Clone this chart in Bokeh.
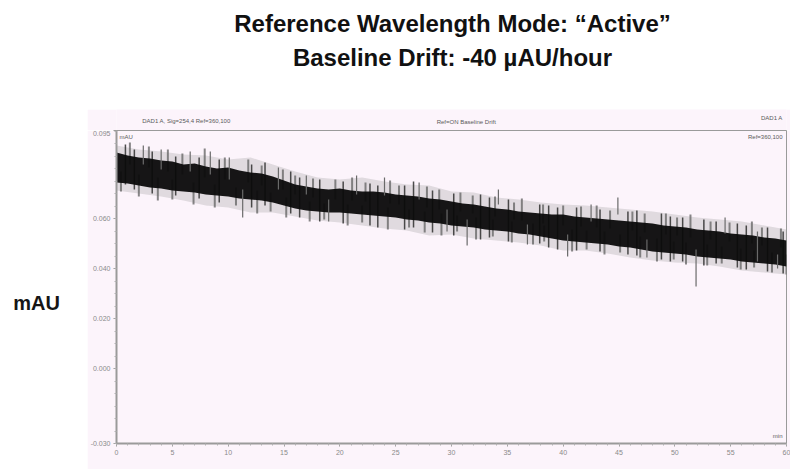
from bokeh.plotting import figure
from bokeh.layouts import column, row
from bokeh.models import Range1d, FixedTicker, Label
from bokeh.embed import file_html
from bokeh.resources import INLINE

# ---------------- data ----------------
time_min = list(range(61))  # minutes
band_top = [0.0864, 0.0852, 0.0844, 0.0840, 0.0832, 0.0828, 0.0816, 0.0820, 0.0808, 0.0800,
            0.0804, 0.0792, 0.0784, 0.0780, 0.0768, 0.0752, 0.0736, 0.0728, 0.0720, 0.0716,
            0.0720, 0.0712, 0.0708, 0.0708, 0.0704, 0.0696, 0.0692, 0.0688, 0.0680, 0.0676,
            0.0668, 0.0660, 0.0656, 0.0648, 0.0640, 0.0636, 0.0628, 0.0624, 0.0620, 0.0616,
            0.0616, 0.0608, 0.0604, 0.0600, 0.0596, 0.0592, 0.0588, 0.0584, 0.0580, 0.0572,
            0.0568, 0.0564, 0.0556, 0.0552, 0.0548, 0.0540, 0.0536, 0.0532, 0.0524, 0.0520,
            0.0512]
band_bottom = [0.0744, 0.0740, 0.0732, 0.0724, 0.0720, 0.0712, 0.0708, 0.0704, 0.0696, 0.0692,
               0.0688, 0.0680, 0.0676, 0.0672, 0.0664, 0.0652, 0.0640, 0.0632, 0.0628, 0.0624,
               0.0624, 0.0620, 0.0616, 0.0612, 0.0608, 0.0604, 0.0596, 0.0592, 0.0584, 0.0580,
               0.0572, 0.0568, 0.0564, 0.0556, 0.0552, 0.0548, 0.0540, 0.0536, 0.0528, 0.0520,
               0.0512, 0.0508, 0.0504, 0.0500, 0.0496, 0.0488, 0.0484, 0.0476, 0.0468, 0.0464,
               0.0460, 0.0456, 0.0448, 0.0444, 0.0440, 0.0436, 0.0428, 0.0424, 0.0420, 0.0416,
               0.0408]

halo_time = list(range(0, 61, 2))
halo_top = [0.0892, 0.0876, 0.0868, 0.0856, 0.0852, 0.0836, 0.0844, 0.0816, 0.0788, 0.0764,
            0.0756, 0.0764, 0.0748, 0.0736, 0.0732, 0.0708, 0.0704, 0.0684, 0.0676, 0.0664,
            0.0656, 0.0652, 0.0644, 0.0636, 0.0628, 0.0616, 0.0604, 0.0596, 0.0588, 0.0572,
            0.0556]
halo_bottom = [0.0712, 0.0700, 0.0688, 0.0672, 0.0652, 0.0644, 0.0624, 0.0624, 0.0608, 0.0592,
               0.0584, 0.0572, 0.0560, 0.0552, 0.0532, 0.0536, 0.0520, 0.0512, 0.0504, 0.0492,
               0.0472, 0.0472, 0.0460, 0.0444, 0.0432, 0.0424, 0.0420, 0.0408, 0.0392, 0.0384,
               0.0376]

# isolated noise spikes
spike_time = [2.4, 4.0, 6.6, 8.4, 10.1, 11.3, 14.5, 17.0, 19.0, 21.5, 24.0, 27.1,
              29.6, 31.4, 34.2, 36.8, 40.4, 42.5, 44.9, 47.5, 51.9, 54.5, 57.4, 59.2]
spike_top = [0.0892, 0.0876, 0.0868, 0.0868, 0.0844, 0.0716, 0.0804, 0.0772, 0.0676, 0.0772,
             0.0764, 0.0744, 0.0636, 0.0596, 0.0716, 0.0576, 0.0536, 0.0656, 0.0684, 0.0516,
             0.0476, 0.0604, 0.0548, 0.0456]
spike_bottom = [0.0816, 0.0796, 0.0788, 0.0776, 0.0756, 0.0604, 0.0716, 0.0696, 0.0588, 0.0696,
                0.0692, 0.0676, 0.0548, 0.0492, 0.0656, 0.0496, 0.0448, 0.0588, 0.0616, 0.0444,
                0.0328, 0.0540, 0.0428, 0.0400]

# dense noise strokes through the trace
stroke_time = [0.8, 1.6, 3.2, 5.3, 7.4, 9.2, 12.1, 13.3, 15.6, 16.4, 18.2, 20.3, 22.7,
               23.4, 25.8, 26.6, 28.3, 30.2, 32.6, 33.4, 35.1, 37.9, 38.7, 39.5, 41.2,
               43.3, 45.8, 46.6, 48.8, 49.6, 50.7, 52.6, 53.7, 55.6, 56.4, 58.3, 59.7]
stroke_top = [0.0896, 0.0876, 0.0868, 0.0848, 0.0844, 0.0836, 0.0816, 0.0824, 0.0788, 0.0764,
              0.0756, 0.0748, 0.0740, 0.0732, 0.0732, 0.0748, 0.0712, 0.0700, 0.0696, 0.0684,
              0.0676, 0.0656, 0.0652, 0.0644, 0.0644, 0.0636, 0.0628, 0.0632, 0.0620, 0.0608,
              0.0604, 0.0596, 0.0588, 0.0580, 0.0572, 0.0564, 0.0548]
stroke_bottom = [0.0736, 0.0716, 0.0700, 0.0692, 0.0680, 0.0664, 0.0644, 0.0652, 0.0620, 0.0604,
                 0.0588, 0.0580, 0.0572, 0.0564, 0.0556, 0.0564, 0.0544, 0.0532, 0.0516, 0.0524,
                 0.0508, 0.0500, 0.0484, 0.0476, 0.0472, 0.0468, 0.0456, 0.0452, 0.0436, 0.0428,
                 0.0428, 0.0412, 0.0420, 0.0404, 0.0396, 0.0388, 0.0380]

# grey fringe strokes above the trace
upper_time = [1.2, 2.9, 4.6, 5.9, 7.9, 9.7, 11.8, 13.0, 14.9, 16.0, 17.6, 19.6, 21.1,
              22.3, 24.5, 25.3, 27.8, 28.9, 30.8, 31.9, 33.9, 35.6, 36.3, 38.2, 40.0,
              41.6, 43.0, 44.2, 46.2, 47.3, 49.2, 50.2, 51.4, 53.2, 54.9, 56.9, 57.8, 59.5]
upper_tip = [0.0904, 0.0888, 0.0876, 0.0860, 0.0880, 0.0844, 0.0836, 0.0812, 0.0796, 0.0772,
             0.0760, 0.0756, 0.0764, 0.0744, 0.0752, 0.0732, 0.0728, 0.0716, 0.0704, 0.0692,
             0.0688, 0.0664, 0.0680, 0.0656, 0.0652, 0.0648, 0.0652, 0.0632, 0.0628, 0.0620,
             0.0620, 0.0604, 0.0616, 0.0588, 0.0584, 0.0588, 0.0564, 0.0560]
upper_base = [0.0816, 0.0804, 0.0788, 0.0776, 0.0764, 0.0756, 0.0744, 0.0732, 0.0716, 0.0696,
              0.0684, 0.0676, 0.0672, 0.0668, 0.0660, 0.0656, 0.0644, 0.0636, 0.0628, 0.0620,
              0.0608, 0.0596, 0.0592, 0.0580, 0.0572, 0.0568, 0.0564, 0.0560, 0.0552, 0.0544,
              0.0536, 0.0532, 0.0524, 0.0516, 0.0508, 0.0500, 0.0492, 0.0484]

# grey fringe strokes below the trace
lower_time = [0.4, 2.0, 3.7, 5.0, 6.9, 8.8, 10.7, 12.6, 13.8, 15.2, 17.3, 18.6, 20.7,
              22.0, 24.3, 26.2, 27.6, 29.1, 30.5, 32.2, 33.7, 35.4, 37.3, 38.3, 40.8,
              42.1, 43.7, 45.1, 46.9, 48.4, 49.9, 51.0, 52.9, 54.2, 55.9, 57.1, 58.7, 60.0]
lower_base = [0.0788, 0.0776, 0.0764, 0.0756, 0.0744, 0.0736, 0.0724, 0.0712, 0.0704, 0.0684,
              0.0668, 0.0660, 0.0656, 0.0652, 0.0644, 0.0636, 0.0628, 0.0620, 0.0612, 0.0604,
              0.0596, 0.0588, 0.0580, 0.0572, 0.0556, 0.0552, 0.0548, 0.0536, 0.0528, 0.0520,
              0.0508, 0.0504, 0.0496, 0.0488, 0.0480, 0.0472, 0.0464, 0.0456]
lower_tip = [0.0708, 0.0688, 0.0672, 0.0676, 0.0656, 0.0644, 0.0652, 0.0620, 0.0628, 0.0604,
             0.0588, 0.0596, 0.0572, 0.0584, 0.0556, 0.0564, 0.0544, 0.0532, 0.0548, 0.0516,
             0.0528, 0.0504, 0.0496, 0.0508, 0.0468, 0.0476, 0.0456, 0.0464, 0.0444, 0.0428,
             0.0436, 0.0416, 0.0412, 0.0420, 0.0396, 0.0404, 0.0384, 0.0376]

x_ticks = [0, 5, 10, 15, 20, 25, 30, 35, 40, 45, 50, 55, 60]
x_tick_labels = ["0", "5", "10", "15", "20", "25", "30", "35", "40", "45", "50", "55", "60"]
y_ticks = [-0.03, 0.0, 0.02, 0.04, 0.06, 0.0952]
y_tick_labels = ["-0.030", "0.000", "0.020", "0.040", "0.060", "0.095"]

title_line1 = "Reference Wavelength Mode: \u201cActive\u201d"
title_line2 = "Baseline Drift: -40 \u00b5AU/hour"
y_label = "mAU"
header_left = "DAD1 A, Sig=254,4 Ref=360,100"
header_center = "Ref=ON Baseline Drift"
header_right = "DAD1 A"
corner_right = "Ref=360,100"
corner_left = "mAU"
corner_bottom = "min"

# ---------------- styling ----------------
PINK = "#fcf4fb"
FONT = "Liberation Sans"


def blank(fig, fill):
    fig.axis.visible = False
    fig.grid.visible = False
    fig.outline_line_color = None
    fig.background_fill_color = fill
    fig.border_fill_color = fill


# Title area
tf = figure(width=790, height=109, x_range=Range1d(0, 790), y_range=Range1d(0, 109),
            output_backend="svg", toolbar_location=None, min_border=0)
blank(tf, "white")
for txt, yy in ((title_line1, 86), (title_line2, 52.5)):
    tf.add_layout(Label(x=452, y=yy, text=txt, text_align="center", text_baseline="middle",
                        text_font=FONT, text_font_size="24px", text_font_style="bold",
                        text_color="#111111"))

# y-label area
lf = figure(width=87, height=360, x_range=Range1d(0, 87), y_range=Range1d(0, 360),
            output_backend="svg", toolbar_location=None, min_border=0)
blank(lf, "white")
lf.add_layout(Label(x=36, y=167, text=y_label, text_align="center", text_baseline="middle",
                    text_font=FONT, text_font_size="20px", text_font_style="bold",
                    text_color="#151515"))

# header strip above the chromatogram
hf = figure(width=703, height=21, x_range=Range1d(0, 703), y_range=Range1d(0, 21),
            output_backend="svg", toolbar_location=None, min_border=0)
blank(hf, PINK)
hdr = dict(text_font=FONT, text_font_size="6px", text_color="#5a5a5a", text_baseline="middle")
hf.add_layout(Label(x=27, y=10, text=header_left, text_align="left", **hdr))
hf.add_layout(Label(x=367, y=9, text=header_center, text_align="center", **hdr))
hf.add_layout(Label(x=699, y=13, text=header_right, text_align="right", **hdr))

# Main chromatogram
p = figure(width=703, height=339, x_range=Range1d(0, 60), y_range=Range1d(-0.03, 0.0952),
           output_backend="svg", toolbar_location=None,
           min_border_left=29, min_border_right=4, min_border_top=0, min_border_bottom=26)
p.background_fill_color = PINK
p.border_fill_color = PINK
p.outline_line_color = "#9a9a9a"
p.outline_line_width = 1
p.grid.visible = False

p.varea(x=halo_time, y1=halo_bottom, y2=halo_top, fill_color="#8c8c8c", fill_alpha=0.25)
p.segment(x0=upper_time, y0=upper_base, x1=upper_time, y1=upper_tip,
          line_color="#606060", line_width=2, line_alpha=0.75)
p.segment(x0=lower_time, y0=lower_base, x1=lower_time, y1=lower_tip,
          line_color="#606060", line_width=2, line_alpha=0.75)
p.segment(x0=stroke_time, y0=stroke_bottom, x1=stroke_time, y1=stroke_top,
          line_color="#2e2e2e", line_width=1.5, line_alpha=0.85)
p.varea(x=time_min, y1=band_bottom, y2=band_top, fill_color="#0b0b0b", fill_alpha=0.95)
p.segment(x0=spike_time, y0=spike_bottom, x1=spike_time, y1=spike_top,
          line_color="#6a6a6a", line_width=1.2)

for ax in (p.xaxis[0], p.yaxis[0]):
    ax.axis_line_color = "#9a9a9a"
    ax.axis_line_width = 2
    ax.major_tick_line_color = "#9a9a9a"
    ax.minor_tick_line_color = "#b0b0b0"
    ax.major_tick_out = 3
    ax.major_tick_in = 0
    ax.minor_tick_out = 2
    ax.minor_tick_in = 0
    ax.major_label_text_color = "#8a8a8a"
    ax.major_label_text_font_size = "7px"
    ax.major_label_standoff = 3

p.xaxis.ticker = FixedTicker(ticks=x_ticks, minor_ticks=list(range(61)))
p.xaxis.major_label_overrides = {t: l for t, l in zip(x_ticks, x_tick_labels)}
p.yaxis.ticker = FixedTicker(ticks=y_ticks,
                             minor_ticks=[-0.03 + 0.005 * i for i in range(26)])
p.yaxis.major_label_overrides = {t: l for t, l in zip(y_ticks, y_tick_labels)}

corner = dict(x_units="screen", y_units="screen", **hdr)
p.add_layout(Label(x=666, y=307, text=corner_right, text_align="right", **corner))
p.add_layout(Label(x=3, y=307, text=corner_left, text_align="left", **corner))
p.add_layout(Label(x=666, y=8, text=corner_bottom, text_align="right", **corner))

layout = column(tf, row(lf, column(hf, p)))
open("out.html", "w").write(file_html(layout, INLINE))
